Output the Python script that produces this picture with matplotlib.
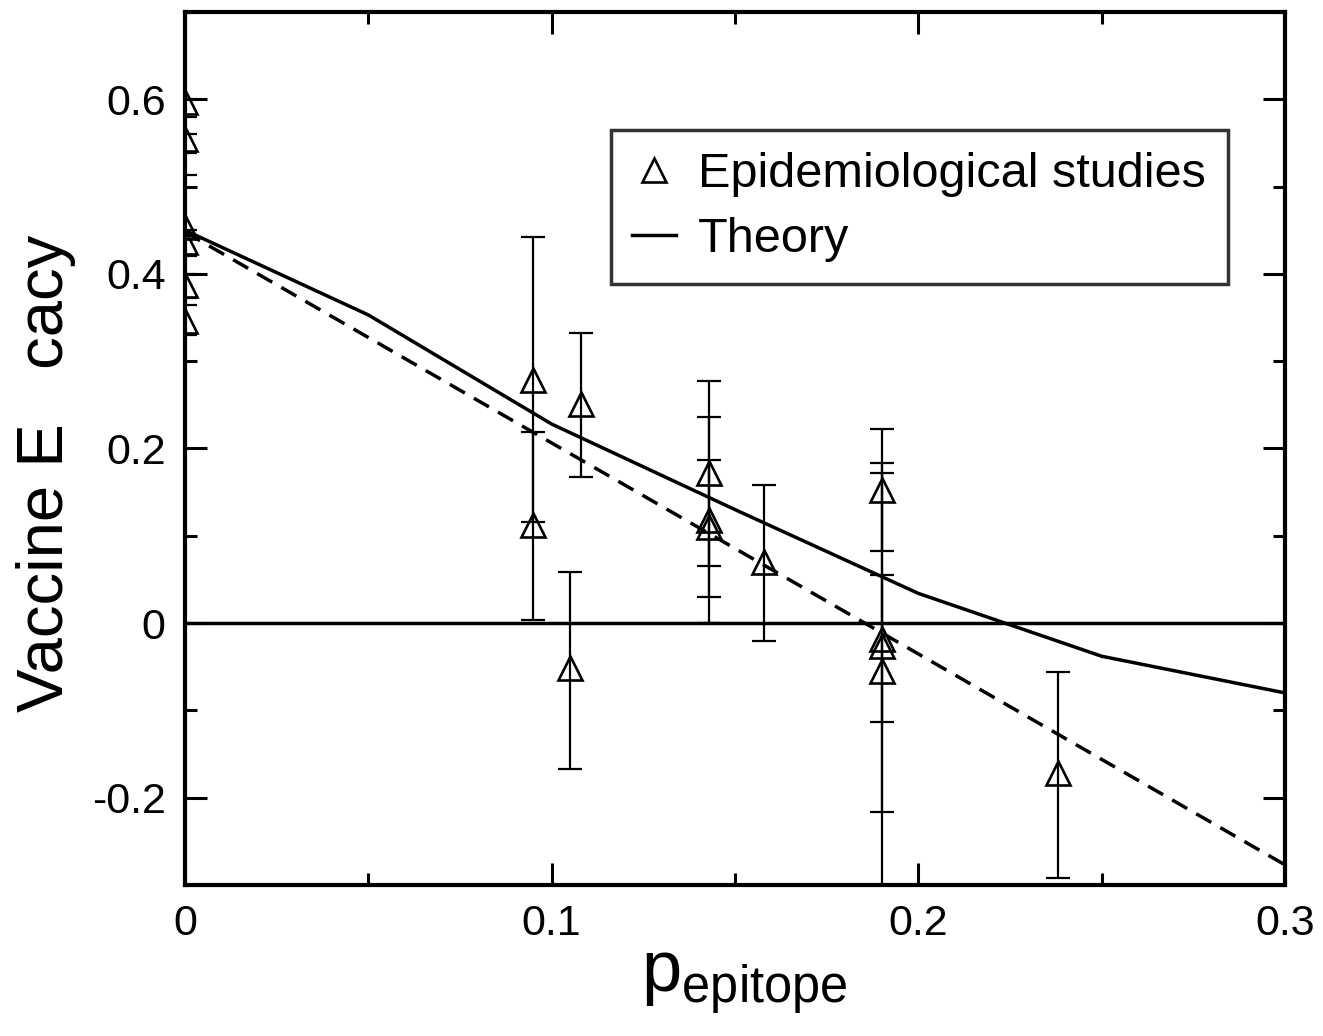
import matplotlib
matplotlib.use("Agg")
import matplotlib.pyplot as plt
from matplotlib.ticker import MultipleLocator

plt.rcParams["font.family"] = ["Liberation Sans", "DejaVu Sans"]
plt.rcParams["mathtext.fontset"] = "custom"
plt.rcParams["mathtext.rm"] = "Liberation Sans"

# epidemiological studies: position, efficacy and error bar bounds
study_p = [0.0, 0.0, 0.0, 0.0, 0.0, 0.0,
           0.095, 0.095, 0.108, 0.105,
           0.143, 0.143, 0.143, 0.158,
           0.190, 0.190, 0.190, 0.190, 0.238]
study_eff = [0.597, 0.554, 0.454, 0.436, 0.387, 0.346,
             0.279, 0.112, 0.251, -0.052,
             0.172, 0.118, 0.110, 0.070,
             0.152, -0.018, -0.026, -0.055, -0.172]
study_low = [0.580, 0.539, 0.440, 0.420, 0.372, 0.330,
             0.116, 0.004, 0.167, -0.167,
             0.065, 0.000, 0.030, -0.021,
             0.082, -0.216, -0.113, -0.300, -0.292]
study_high = [0.600, 0.560, 0.513, 0.450, 0.400, 0.364,
              0.442, 0.219, 0.332, 0.058,
              0.277, 0.236, 0.187, 0.158,
              0.222, 0.172, 0.055, 0.183, -0.056]

# theory curve
theory_p = [0.0, 0.05, 0.10, 0.15, 0.20, 0.25, 0.30]
theory_eff = [0.450, 0.353, 0.228, 0.130, 0.034, -0.038, -0.080]

# dashed linear fit
fit_p = [0.0, 0.30]
fit_eff = [0.448, -0.277]

fig = plt.figure(figsize=(13.23, 10.36), dpi=100)
ax = fig.add_axes([0.1398, 0.1458, 0.8315, 0.8426])

yerr = [[e - lo for e, lo in zip(study_eff, study_low)],
        [hi - e for e, hi in zip(study_eff, study_high)]]
ax.errorbar(study_p, study_eff, yerr=yerr, fmt="none", ecolor="black",
            elinewidth=1.6, capsize=8.3, capthick=1.6, zorder=2)
ax.plot(study_p, study_eff, linestyle="none", marker="^", markersize=17,
        markerfacecolor="none", markeredgecolor="black", markeredgewidth=1.9,
        label="Epidemiological studies", zorder=3)
ax.plot(theory_p, theory_eff, color="black", linewidth=2.5, label="Theory")
ax.plot(fit_p, fit_eff, color="black", linewidth=2.5, linestyle=(0, (5, 3)))
ax.axhline(0, color="black", linewidth=2.5)

ax.set_xlim(0, 0.3)
ax.set_ylim(-0.3, 0.7)
ax.xaxis.set_minor_locator(MultipleLocator(0.05))
ax.yaxis.set_minor_locator(MultipleLocator(0.1))
ax.set_xticks([0, 0.1, 0.2, 0.3])
ax.set_xticklabels(["0", "0.1", "0.2", "0.3"])
ax.set_yticks([-0.2, 0, 0.2, 0.4, 0.6])
ax.set_yticklabels(["-0.2", "0", "0.2", "0.4", "0.6"])
ax.tick_params(which="both", direction="in", top=True, right=True, width=2.2,
               labelsize=31)
ax.tick_params(which="major", length=16, pad=14)
ax.tick_params(which="minor", length=8.5)
for spine in ax.spines.values():
    spine.set_linewidth(3)

ax.set_ylabel("Vaccine E   cacy", fontsize=47)
ax.yaxis.set_label_coords(-0.099, 0.471)
ax.set_xlabel(r"$\mathrm{p}_{\mathrm{epitope}}$", fontsize=52)
ax.xaxis.set_label_coords(0.508, -0.075)

leg = ax.legend(loc="upper right", bbox_to_anchor=(0.948, 0.865), borderaxespad=0,
                fontsize=35, frameon=True, fancybox=False, edgecolor="black",
                handlelength=0.9, handletextpad=0.45, borderpad=0.45,
                labelspacing=0.42)
leg.get_frame().set_linewidth(2.5)

fig.savefig("out.png", dpi=100)
